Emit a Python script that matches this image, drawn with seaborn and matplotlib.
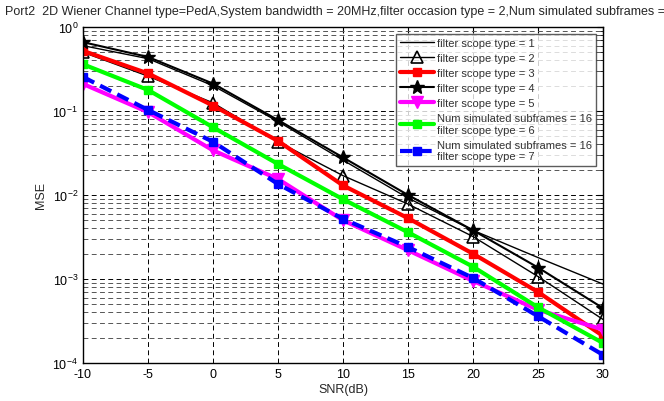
import matplotlib
matplotlib.use("Agg")
import matplotlib.pyplot as plt
import seaborn as sns
import pandas as pd
import numpy as np
from matplotlib.ticker import LogLocator, NullFormatter

snr = [-10, -5, 0, 5, 10, 15, 20, 25, 30]
mse_type1 = [0.60, 0.42, 0.200, 0.075, 0.026, 0.0092, 0.0038, 0.0018, 0.00087]
mse_type2 = [0.50, 0.26, 0.125, 0.043, 0.017, 0.0078, 0.0032, 0.00107, 0.00033]
mse_type3 = [0.52, 0.28, 0.116, 0.044, 0.013, 0.0053, 0.0020, 0.00070, 0.00021]
mse_type4 = [0.66, 0.44, 0.212, 0.078, 0.028, 0.0100, 0.0038, 0.00137, 0.00045]
mse_type5 = [0.21, 0.097, 0.034, 0.0155, 0.0050, 0.0022, 0.00095, 0.00043, 0.00025]
mse_type6 = [0.36, 0.178, 0.064, 0.0234, 0.0089, 0.0036, 0.0014, 0.00046, 0.000173]
mse_type7 = [0.254, 0.103, 0.043, 0.0135, 0.0052, 0.0024, 0.00103, 0.00036, 0.000125]

labels = ["filter scope type = 1",
          "filter scope type = 2",
          "filter scope type = 3",
          "filter scope type = 4",
          "filter scope type = 5",
          "Num simulated subframes = 16\nfilter scope type = 6",
          "Num simulated subframes = 16\nfilter scope type = 7"]

title = ("Port2  2D Wiener Channel type=PedA,System bandwidth = 20MHz,"
         "filter occasion type = 2,Num simulated subframes =")

sns.set_style("white")
plt.rcParams['font.family'] = ['Liberation Sans', 'DejaVu Sans']
plt.rcParams['mathtext.fontset'] = 'custom'
plt.rcParams['mathtext.rm'] = 'Liberation Sans'
plt.rcParams['mathtext.it'] = 'Liberation Sans'
plt.rcParams['axes.unicode_minus'] = False

fig = plt.figure(figsize=(6.64, 4.02), dpi=100)
ax = fig.add_axes([83/664, 38/402, 520/664, 336/402])

series = [mse_type1, mse_type2, mse_type3, mse_type4, mse_type5, mse_type6, mse_type7]
styles = [
    dict(color="black", lw=1.0, marker=None),
    dict(color="black", lw=1.0, marker="^", ms=9, mfc="none", mec="black", mew=1.2),
    dict(color="red", lw=3.0, marker="s", ms=6),
    dict(color="black", lw=1.5, marker="*", ms=10),
    dict(color="magenta", lw=3.0, marker="v", ms=9),
    dict(color="#00ff00", lw=3.0, marker="s", ms=6),
    dict(color="blue", lw=3.0, marker="s", ms=6, ls=(0, (3, 1.6))),
]
for vals, lab, st in zip(series, labels, styles):
    df = pd.DataFrame({"SNR": snr, "MSE": vals})
    kw = dict(color=st["color"], linewidth=st["lw"], label=lab)
    if st.get("marker"):
        kw["marker"] = st["marker"]
        kw["markersize"] = st["ms"]
        kw["markerfacecolor"] = st.get("mfc", st["color"])
        kw["markeredgecolor"] = st.get("mec", st["color"])
        kw["markeredgewidth"] = st.get("mew", 1.0)
    if "ls" in st:
        kw["linestyle"] = st["ls"]
    sns.lineplot(data=df, x="SNR", y="MSE", ax=ax, **kw)

ax.set_yscale("log")
ax.set_xlim(-10, 30)
ax.set_ylim(1e-4, 1)
ax.set_xticks(snr)
ax.yaxis.set_major_locator(LogLocator(base=10, numticks=10))
ax.yaxis.set_minor_locator(LogLocator(base=10, subs=np.arange(2, 10), numticks=20))
ax.yaxis.set_minor_formatter(NullFormatter())

dash = (0, (5, 3.5))
ax.grid(True, which="major", axis="both", color="black", linestyle=dash, linewidth=0.7)
ax.grid(True, which="minor", axis="y", color="#555555", linestyle=dash, linewidth=0.7)
ax.set_axisbelow(True)

for s in ax.spines.values():
    s.set_color("black")
    s.set_linewidth(1.0)
ax.tick_params(which="both", direction="in", top=True, right=True, labelsize=9,
               colors="black")
ax.tick_params(which="major", length=4)
ax.tick_params(which="minor", length=2)

ax.set_xlabel("SNR(dB)", fontsize=9, labelpad=2)
ax.set_ylabel("MSE", fontsize=9, labelpad=4)

fig.text(0.008, 0.985, title, fontsize=9, ha="left", va="top")

leg = ax.legend(loc="upper right", bbox_to_anchor=(0.998, 0.997), fontsize=8,
                frameon=True, fancybox=False, edgecolor="#333333",
                handlelength=3.0, borderpad=0.4, labelspacing=0.45,
                handletextpad=0.3)
leg.get_frame().set_linewidth(1.0)
for t in leg.get_texts():
    t.set_color("#333333")

fig.savefig("out.png", dpi=100)
